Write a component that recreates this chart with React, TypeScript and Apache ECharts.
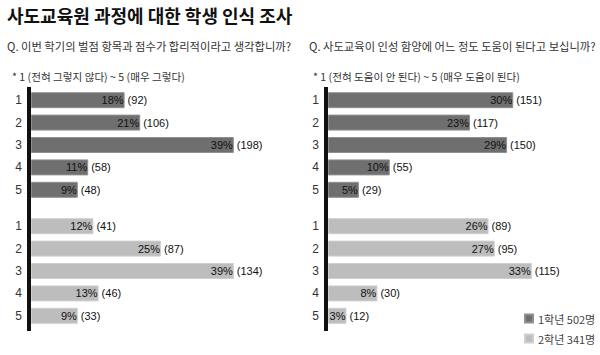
import React, { useEffect, useRef } from "react";
import * as echarts from "echarts";

const categories = ["1", "2", "3", "4", "5"];
const leftYear1Pct = [18, 21, 39, 11, 9];
const leftYear1Cnt = [92, 106, 198, 58, 48];
const leftYear2Pct = [12, 25, 39, 13, 9];
const leftYear2Cnt = [41, 87, 134, 46, 33];
const rightYear1Pct = [30, 23, 29, 10, 5];
const rightYear1Cnt = [151, 117, 150, 55, 29];
const rightYear2Pct = [26, 27, 33, 8, 3];
const rightYear2Cnt = [89, 95, 115, 30, 12];
const seriesNames = ["1학년 502명", "2학년 341명"];

const KR = '"Noto Sans CJK KR", "Liberation Sans", sans-serif';
const NUM = '"Liberation Sans", Arial, sans-serif';

export default function App() {
  const ref = useRef<HTMLDivElement>(null);
  useEffect(() => {
    if (!ref.current) return;
    const chart = echarts.init(ref.current, null, { renderer: "svg" });
    const grids = [
      { left: 31, top: 89, width: 260, height: 112 },
      { left: 31, top: 215, width: 260, height: 112 },
      { left: 328, top: 89, width: 247, height: 112 },
      { left: 328, top: 215, width: 247, height: 112 },
    ];
    const maxes = [50, 50, 40, 40];
    const sets = [
      { pct: leftYear1Pct, cnt: leftYear1Cnt, g: 0 },
      { pct: leftYear2Pct, cnt: leftYear2Cnt, g: 1 },
      { pct: rightYear1Pct, cnt: rightYear1Cnt, g: 0 },
      { pct: rightYear2Pct, cnt: rightYear2Cnt, g: 1 },
    ];
    const colors = ["#6f6f6f", "#bdbdbd"];
    const borders = ["#8f8f8f", "#cfcfcf"];
    const series: any[] = [];
    sets.forEach((s, i) => {
      series.push({
        type: "bar",
        name: seriesNames[s.g],
        xAxisIndex: i,
        yAxisIndex: i,
        data: s.pct,
        barWidth: 16,
        barGap: "-100%",
        itemStyle: { color: colors[s.g], borderColor: borders[s.g], borderWidth: 1 },
        label: {
          show: true,
          position: "insideRight",
          distance: 1,
          formatter: "{c}%",
          color: "#111",
          fontSize: 11,
          fontFamily: NUM,
        },
        silent: true,
      });
      series.push({
        type: "bar",
        name: "count" + i,
        xAxisIndex: i,
        yAxisIndex: i,
        data: s.pct,
        barWidth: 16,
        barGap: "-100%",
        itemStyle: { color: "rgba(0,0,0,0)" },
        label: {
          show: true,
          position: "right",
          distance: 3,
          formatter: (p: any) => `(${s.cnt[p.dataIndex]})`,
          color: "#111",
          fontSize: 11,
          fontFamily: NUM,
        },
        silent: true,
      });
    });
    const legendBase = {
      orient: "vertical",
      left: 524,
      padding: 0,
      itemWidth: 8,
      itemHeight: 8,
      icon: "rect",
      textStyle: { fontSize: 11, color: "#444", fontFamily: KR },
      selectedMode: false,
    };
    chart.setOption({
      animation: false,
      backgroundColor: "#fff",
      grid: grids,
      xAxis: grids.map((_, i) => ({
        type: "value",
        gridIndex: i,
        min: 0,
        max: maxes[i],
        show: false,
      })),
      yAxis: grids.map((_, i) => ({
        type: "category",
        gridIndex: i,
        data: categories,
        inverse: true,
        axisLine: { show: false },
        axisTick: { show: false },
        axisLabel: { margin: 9, color: "#333", fontSize: 12, fontFamily: NUM },
      })),
      legend: [
        { ...legendBase, top: 313, data: [seriesNames[0]] },
        { ...legendBase, top: 333, data: [seriesNames[1]] },
      ],
      graphic: [
        { type: "rect", shape: { x: 27, y: 87, width: 4, height: 244 }, style: { fill: "#111" } },
        { type: "rect", shape: { x: 324, y: 87, width: 4, height: 244 }, style: { fill: "#111" } },
        {
          type: "text",
          x: 7,
          y: 6,
          style: { text: "사도교육원 과정에 대한 학생 인식 조사", font: `bold 18px ${KR}`, fill: "#111" },
        },
        {
          type: "text",
          x: 7,
          y: 40,
          style: { text: "Q. 이번 학기의 벌점 항목과 점수가 합리적이라고 생각합니까?", font: `11.3px ${KR}`, fill: "#333" },
        },
        {
          type: "text",
          x: 309,
          y: 40,
          style: { text: "Q. 사도교육이 인성 함양에 어느 정도 도움이 된다고 보십니까?", font: `11.3px ${KR}`, fill: "#333" },
        },
        {
          type: "text",
          x: 12,
          y: 71,
          style: { text: "* 1 (전혀 그렇지 않다) ~ 5 (매우 그렇다)", font: `10.6px ${KR}`, fill: "#333" },
        },
        {
          type: "text",
          x: 313,
          y: 71,
          style: { text: "* 1 (전혀 도움이 안 된다) ~ 5 (매우 도움이 된다)", font: `10.6px ${KR}`, fill: "#333" },
        },
      ],
      series,
    });
    return () => chart.dispose();
  }, []);
  return (
    <div
      ref={ref}
      style={{ position: "absolute", left: 0, top: 0, width: 600, height: 355, background: "#fff" }}
    />
  );
}
